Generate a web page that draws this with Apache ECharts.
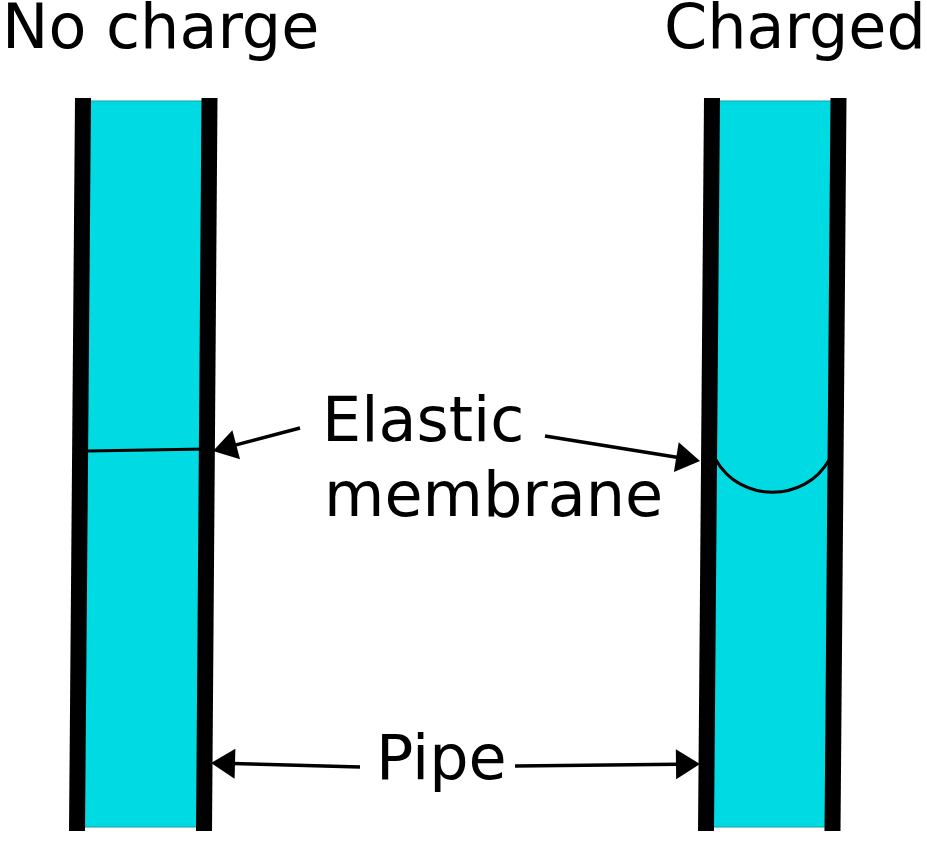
<!DOCTYPE html>
<html>
<head>
<meta charset="utf-8">
<script src="https://cdn.jsdelivr.net/npm/echarts@6/dist/echarts.min.js"></script>
<style>
    html, body { margin: 0; padding: 0; background: #fff; }
    #main { width: 927px; height: 842px; }
</style>
</head>
<body>
<div id="main"></div>
<script>
/**
 * 图中各元素的位置（坐标轴单位，与画布像素一致）
 */
var wallTopY = 98;
var wallBottomY = 831;
// 每面管壁：[顶部x, 底部x]
var walls = [[83, 77], [209.5, 204], [712, 706], [838.5, 832.5]];
var fillTopY = 101;
var fillBottomY = 827;
// 每根管内液体：[左上x, 右上x, 右下x, 左下x]
var pipes = [[83, 209.5, 204, 77], [712, 838.5, 832.5, 706]];
// 平膜（未充电）
var flatMembrane = [[87, 451], [206, 449]];
// 弯膜（充电）：起点、控制点1、控制点2、终点
var curvedMembrane = [[716, 460], [740, 503], [805, 503], [829, 460]];
// 箭头：[起点x, 起点y, 尖端x, 尖端y]
var arrows = [[300, 428, 213, 451], [545, 436, 700, 461], [360, 767, 211, 763], [515, 766, 700, 764]];
// 文字
var labels = ['No charge', 'Charged', 'Elastic', 'membrane', 'Pipe'];
var labelX = [2, 664, 322, 324, 376];
var labelY = [52, 52, 445, 520, 783];

var chart = echarts.init(document.getElementById('main'));

var font = '62px "DejaVu Sans"';
var cyan = '#00dae3';

function wallItem(params, api) {
    var p1 = api.coord([api.value(0), wallTopY]);
    var p2 = api.coord([api.value(1), wallBottomY]);
    return {
        type: 'line',
        shape: { x1: p1[0], y1: p1[1], x2: p2[0], y2: p2[1] },
        style: { stroke: '#000', lineWidth: 16, lineCap: 'butt' }
    };
}

function pipeItem(params, api) {
    var pts = [
        api.coord([api.value(0), fillTopY]),
        api.coord([api.value(1), fillTopY]),
        api.coord([api.value(2), fillBottomY]),
        api.coord([api.value(3), fillBottomY])
    ];
    return {
        type: 'polygon',
        shape: { points: pts },
        style: { fill: cyan, stroke: '#0aa6ad', lineWidth: 1 }
    };
}

function arrowItem(params, api) {
    var s = api.coord([api.value(0), api.value(1)]);
    var t = api.coord([api.value(2), api.value(3)]);
    var dx = t[0] - s[0], dy = t[1] - s[1];
    var len = Math.sqrt(dx * dx + dy * dy);
    var ux = dx / len, uy = dy / len;
    var headLen = 24, headHalf = 15;
    var bx = t[0] - ux * headLen, by = t[1] - uy * headLen;
    return {
        type: 'group',
        children: [{
            type: 'line',
            shape: { x1: s[0], y1: s[1], x2: bx + ux * 2, y2: by + uy * 2 },
            style: { stroke: '#000', lineWidth: 3.5 }
        }, {
            type: 'polygon',
            shape: {
                points: [
                    [t[0], t[1]],
                    [bx - uy * headHalf, by + ux * headHalf],
                    [bx + uy * headHalf, by - ux * headHalf]
                ]
            },
            style: { fill: '#000' }
        }]
    };
}

function labelItem(params, api) {
    var p = api.coord([api.value(0), api.value(1)]);
    return {
        type: 'text',
        x: p[0],
        y: p[1] - 20,
        style: {
            text: labels[params.dataIndex],
            font: font,
            fill: '#000',
            align: 'left',
            verticalAlign: 'middle'
        }
    };
}

var option = {
    backgroundColor: '#fff',
    animation: false,
    grid: { left: 0, right: 0, top: 0, bottom: 0 },
    xAxis: { type: 'value', min: 0, max: 927, show: false },
    yAxis: { type: 'value', min: 0, max: 842, inverse: true, show: false },
    series: [{
        type: 'custom',
        silent: true,
        clip: false,
        renderItem: pipeItem,
        data: pipes
    }, {
        type: 'line',
        silent: true,
        symbol: 'none',
        lineStyle: { color: '#000', width: 3 },
        data: flatMembrane
    }, {
        type: 'custom',
        silent: true,
        clip: false,
        renderItem: function (params, api) {
            var p = curvedMembrane.map(function (d) { return api.coord(d); });
            return {
                type: 'bezierCurve',
                shape: {
                    x1: p[0][0], y1: p[0][1],
                    cpx1: p[1][0], cpy1: p[1][1],
                    cpx2: p[2][0], cpy2: p[2][1],
                    x2: p[3][0], y2: p[3][1]
                },
                style: { stroke: '#000', lineWidth: 3, fill: null }
            };
        },
        data: [0]
    }, {
        type: 'custom',
        silent: true,
        clip: false,
        renderItem: wallItem,
        data: walls
    }, {
        type: 'custom',
        silent: true,
        clip: false,
        renderItem: arrowItem,
        data: arrows
    }, {
        type: 'custom',
        silent: true,
        clip: false,
        renderItem: labelItem,
        data: labelX.map(function (x, i) { return [x, labelY[i]]; })
    }]
};

chart.setOption(option);

window.addEventListener('resize', function () {
    chart.resize();
});
</script>
</body>
</html>
